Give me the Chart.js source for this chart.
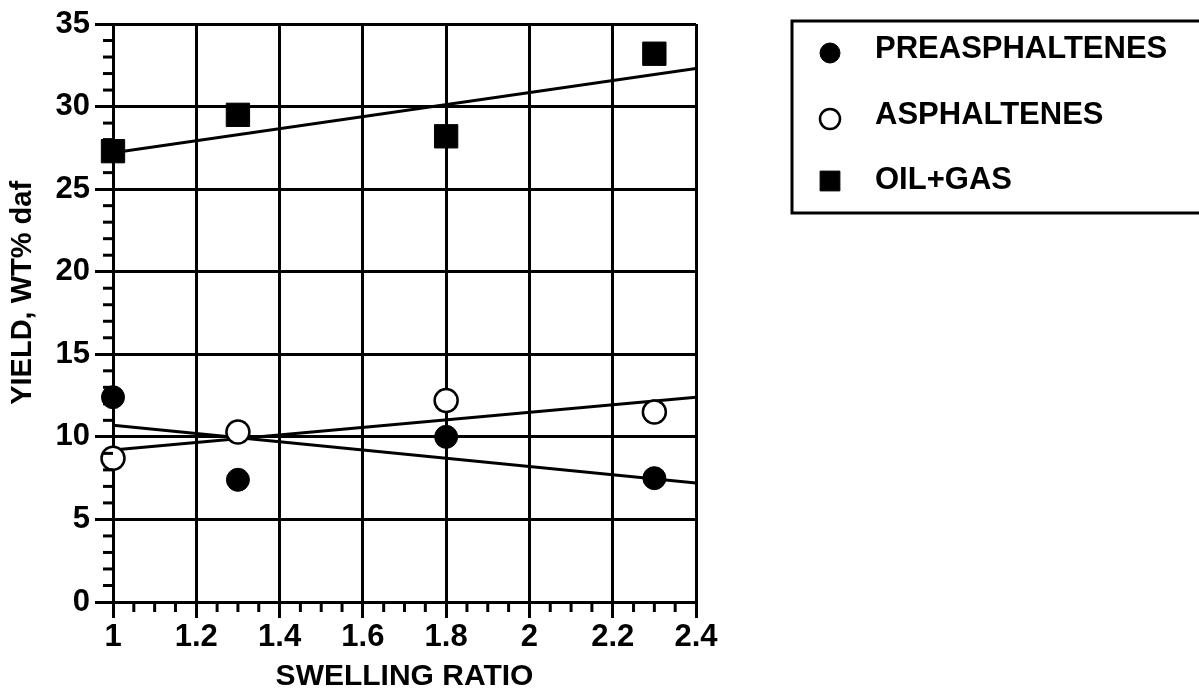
<!DOCTYPE html>
<html>
<head>
<meta charset="utf-8">
<script src="https://cdn.jsdelivr.net/npm/chart.js@4.4.0/dist/chart.umd.min.js"></script>
<style>
html,body{margin:0;padding:0;background:#fff;}
#wrap{width:1199px;height:699px;position:relative;}
</style>
</head>
<body>
<div id="wrap"><canvas id="c"></canvas></div>
<script>
// ---- data ----
const swellingRatio = [1.0, 1.3, 1.8, 2.3];
const preasphaltenes = [12.4, 7.4, 10.0, 7.5];
const asphaltenes = [8.7, 10.3, 12.2, 11.5];
const oilGas = [27.3, 29.5, 28.2, 33.2];

const trendX = [1.0, 2.4];
const preasphTrend = [10.7, 7.2];
const asphTrend = [9.2, 12.4];
const oilGasTrend = [27.2, 32.3];

const xTicks = [1, 1.2, 1.4, 1.6, 1.8, 2, 2.2, 2.4];
const xTickLabels = ['1', '1.2', '1.4', '1.6', '1.8', '2', '2.2', '2.4'];
const yTicks = [0, 5, 10, 15, 20, 25, 30, 35];
const yTickLabels = ['0', '5', '10', '15', '20', '25', '30', '35'];
const seriesNames = ['PREASPHALTENES', 'ASPHALTENES', 'OIL+GAS'];

const FONT = "'Liberation Sans', Arial, Helvetica, sans-serif";
Chart.defaults.font.family = FONT;
Chart.defaults.font.weight = 'bold';
Chart.defaults.color = '#000';

const pts = (xs, ys) => xs.map((x, i) => ({x: x, y: ys[i]}));

const minorTicks = {
  id: 'minorTicks',
  afterDraw(chart) {
    const {ctx, scales: {x, y}} = chart;
    ctx.save();
    ctx.strokeStyle = '#000';
    ctx.lineWidth = 3;
    for (let k = 1; k < 28; k++) {
      if (k % 4 === 0) continue;
      const px = x.getPixelForValue(1 + k * 0.05);
      ctx.beginPath(); ctx.moveTo(px, y.bottom); ctx.lineTo(px, y.bottom + 10); ctx.stroke();
    }
    for (let k = 1; k < 35; k++) {
      if (k % 5 === 0) continue;
      const py = y.getPixelForValue(k);
      ctx.beginPath(); ctx.moveTo(x.left - 10, py); ctx.lineTo(x.left, py); ctx.stroke();
    }
    ctx.restore();
  }
};

const boxLegend = {
  id: 'boxLegend',
  afterDraw(chart) {
    const ctx = chart.ctx;
    ctx.save();
    ctx.lineWidth = 3;
    ctx.strokeStyle = '#000';
    ctx.strokeRect(792, 21, 440, 192);
    const markerY = [53, 119, 181];
    const textY = [49, 115, 180];
    const radii = [10, 10, 14];
    for (let i = 0; i < 3; i++) {
      const ds = chart.data.datasets[i];
      ctx.fillStyle = ds.backgroundColor;
      ctx.strokeStyle = ds.borderColor;
      ctx.lineWidth = ds.borderWidth;
      Chart.helpers.drawPoint(ctx, {pointStyle: ds.pointStyle, radius: radii[i], borderWidth: ds.borderWidth, rotation: 0}, 830, markerY[i]);
      ctx.fillStyle = '#000';
      ctx.font = 'bold 31px ' + FONT;
      ctx.textBaseline = 'middle';
      ctx.textAlign = 'left';
      ctx.fillText(seriesNames[i], 875, textY[i]);
    }
    ctx.restore();
  }
};

new Chart(document.getElementById('c'), {
  type: 'scatter',
  data: {
    datasets: [
      {label: seriesNames[0], data: pts(swellingRatio, preasphaltenes), pointStyle: 'circle', pointRadius: 11.5, pointHoverRadius: 11.5,
       backgroundColor: '#000', borderColor: '#000', borderWidth: 1, clip: false},
      {label: seriesNames[1], data: pts(swellingRatio, asphaltenes), pointStyle: 'circle', pointRadius: 11.5, pointHoverRadius: 11.5,
       backgroundColor: '#fff', borderColor: '#000', borderWidth: 2.5, clip: false},
      {label: seriesNames[2], data: pts(swellingRatio, oilGas), pointStyle: 'rect', pointRadius: 16.5, pointHoverRadius: 16.5,
       backgroundColor: '#000', borderColor: '#000', borderWidth: 1, clip: false},
      {label: 'trend1', data: pts(trendX, preasphTrend), showLine: true, pointRadius: 0, borderColor: '#000', borderWidth: 3, backgroundColor: '#000'},
      {label: 'trend2', data: pts(trendX, asphTrend), showLine: true, pointRadius: 0, borderColor: '#000', borderWidth: 3, backgroundColor: '#000'},
      {label: 'trend3', data: pts(trendX, oilGasTrend), showLine: true, pointRadius: 0, borderColor: '#000', borderWidth: 3, backgroundColor: '#000'}
    ]
  },
  options: {
    responsive: true,
    maintainAspectRatio: false,
    animation: false,
    devicePixelRatio: 1,
    layout: {padding: {left: 0, top: 24, right: 503, bottom: 0}},
    plugins: {legend: {display: false}, tooltip: {enabled: false}},
    scales: {
      x: {
        type: 'linear', min: 1, max: 2.4,
        afterBuildTicks: (s) => { s.ticks = xTicks.map(v => ({value: v})); },
        afterFit: (s) => { s.height = 97; },
        ticks: {autoSkip: false, maxRotation: 0, padding: 1, font: {size: 31}, color: '#000',
                callback: (v, i) => xTickLabels[i]},
        grid: {color: '#000', lineWidth: 3, tickLength: 16, tickWidth: 3, tickColor: '#000'},
        border: {display: true, color: '#000', width: 3},
        title: {display: true, text: 'SWELLING RATIO', font: {size: 30}, color: '#000', padding: {top: 0, bottom: 4}}
      },
      y: {
        type: 'linear', min: 0, max: 35,
        afterBuildTicks: (s) => { s.ticks = yTicks.map(v => ({value: v})); },
        afterFit: (s) => { s.width = 113; },
        ticks: {autoSkip: false, padding: 5, font: {size: 31}, color: '#000',
                callback: (v, i) => yTickLabels[i]},
        grid: {color: '#000', lineWidth: 3, tickLength: 18, tickWidth: 3, tickColor: '#000'},
        border: {display: true, color: '#000', width: 3},
        title: {display: true, text: '     YIELD, WT% daf', font: {size: 29}, color: '#000', padding: {top: 6, bottom: 0}}
      }
    }
  },
  plugins: [minorTicks, boxLegend]
});
</script>
</body>
</html>
